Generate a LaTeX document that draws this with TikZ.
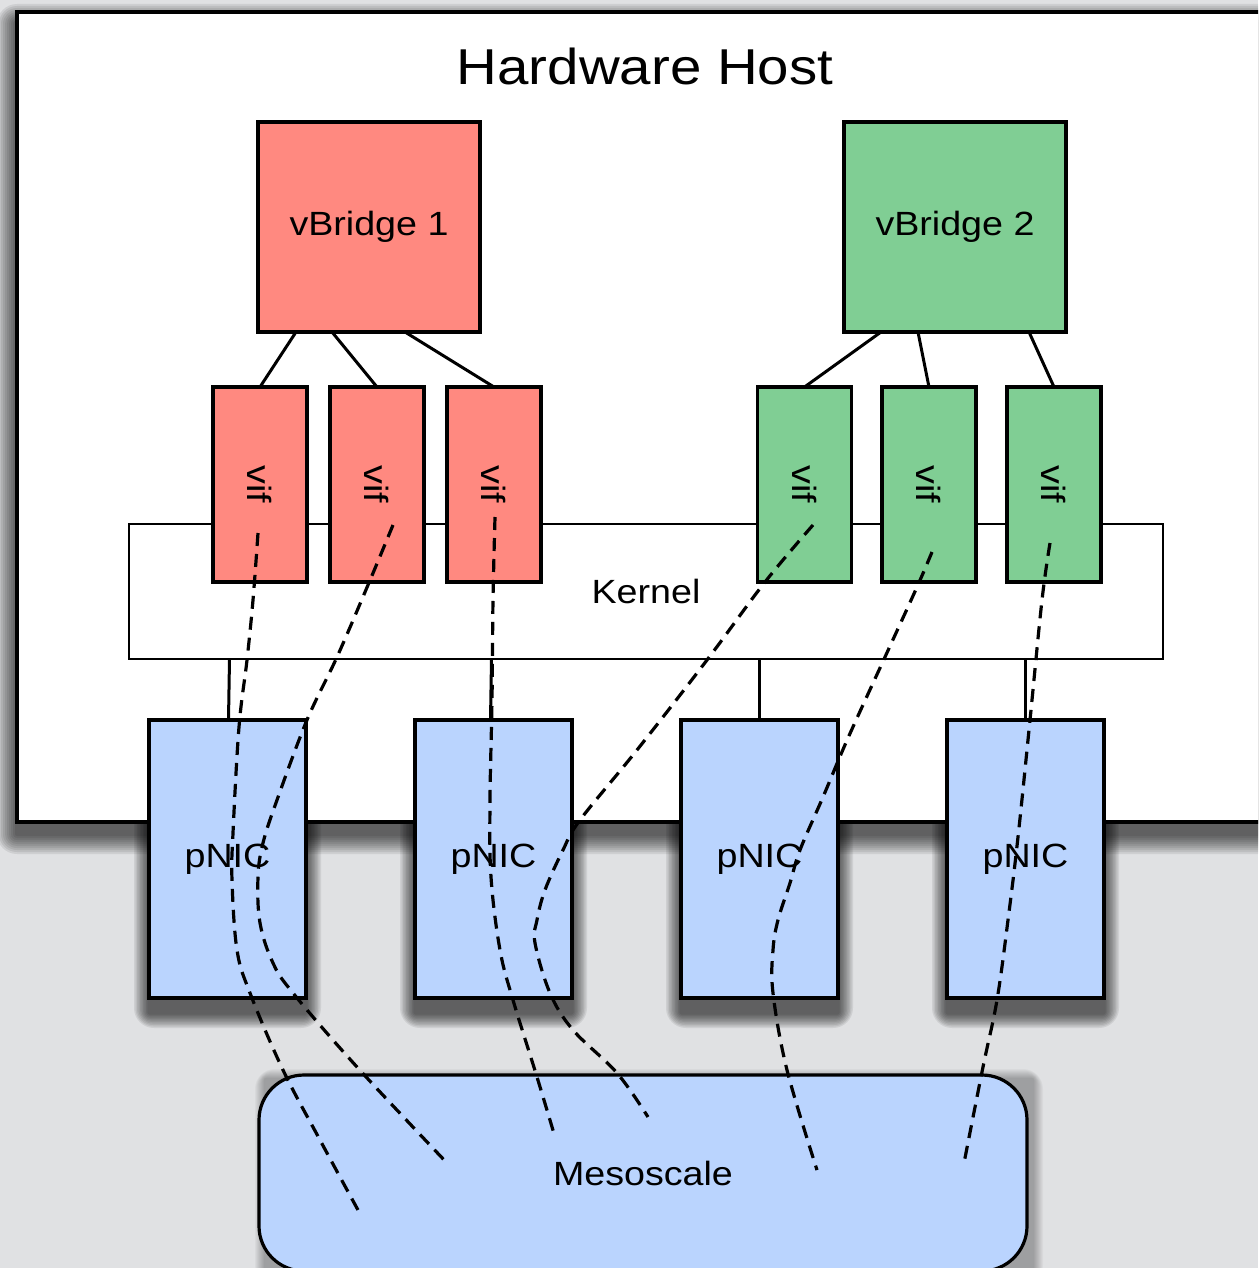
\documentclass[tikz,border=0pt]{standalone}
\usepackage{fontspec}
\setmainfont{Liberation Sans}[FakeStretch=1.12]
\usetikzlibrary{calc}
\definecolor{bggrey}{RGB}{224,225,227}
\definecolor{bridgered}{RGB}{255,137,128}
\definecolor{bridgegreen}{RGB}{128,206,148}
\definecolor{nicblue}{RGB}{186,212,254}
% soft shadow: x1 y1 x2 y2 xoffset yoffset opacity step
\newcommand{\softshadow}[8]{%
  \foreach \k in {1,...,10}{%
    \fill[black, opacity=#7, rounded corners=\k pt]
      ({#1+#5-#8*\k},{#2+#6-#8*\k}) rectangle ({#3+#5+#8*\k},{#4+#6+#8*\k});
  }%
}
\begin{document}
\begin{tikzpicture}[x=0.5pt, y=-0.5pt,
  lbl/.style={font=\fontsize{16.8}{19}\selectfont},
  box/.style={draw=black, line width=1.6pt, inner sep=0pt, outer sep=0pt, lbl},
  bridge/.style={box, minimum width=111pt, minimum height=105pt},
  vifbox/.style={box, minimum width=47pt, minimum height=97.5pt},
  nicbox/.style={box, fill=nicblue, minimum width=78.5pt, minimum height=139pt},
  link/.style={line width=1.5pt},
  flow/.style={line width=1.6pt, dash pattern=on 6.5pt off 4pt},
]
\useasboundingbox (0,0) rectangle (1258,1268);
\clip (0,0) rectangle (1258,1268);
\fill[bggrey] (0,0) rectangle (1258,1268);

% shadows
\softshadow{149}{720}{306}{998}{0}{15}{0.08}{1.5}
\softshadow{415}{720}{572}{998}{0}{15}{0.08}{1.5}
\softshadow{681}{720}{838}{998}{0}{15}{0.08}{1.5}
\softshadow{947}{720}{1104}{998}{0}{15}{0.08}{1.5}
\softshadow{259}{1075}{1027}{1271}{6}{4}{0.03}{1}
\softshadow{17}{12}{1300}{822}{0}{12}{0.08}{2}

% hardware host
\node[box, fill=white, minimum width=636.5pt, minimum height=405pt] (host) at (653.5,417) {};
\node[font=\fontsize{25.2}{30}\selectfont] (title) at (645,66) {Hardware Host};

% bridges
\node[bridge, fill=bridgered] (vb1) at (369,227) {vBridge 1};
\node[bridge, fill=bridgegreen] (vb2) at (955,227) {vBridge 2};

% kernel
\node[box, line width=1.2pt, fill=white, minimum width=517pt, minimum height=67.5pt] (kernel) at (646,591.5) {Kernel};

% vifs
\node[vifbox, fill=bridgered, label={[lbl, rotate=-90]center:vif}] (v11) at (260,484.5) {};
\node[vifbox, fill=bridgered, label={[lbl, rotate=-90]center:vif}] (v12) at (377,484.5) {};
\node[vifbox, fill=bridgered, label={[lbl, rotate=-90]center:vif}] (v13) at (494,484.5) {};
\node[vifbox, fill=bridgegreen, label={[lbl, rotate=-90]center:vif}] (v21) at (804.5,484.5) {};
\node[vifbox, fill=bridgegreen, label={[lbl, rotate=-90]center:vif}] (v22) at (929,484.5) {};
\node[vifbox, fill=bridgegreen, label={[lbl, rotate=-90]center:vif}] (v23) at (1054,484.5) {};

% bridge to vif links
\draw[link] ($(vb1.south west)+(38,0)$) -- (v11.north);
\draw[link] ($(vb1.south west)+(74,0)$) -- (v12.north);
\draw[link] ($(vb1.south west)+(147,0)$) -- (v13.north);
\draw[link] ($(vb2.south west)+(37,0)$) -- (v21.north);
\draw[link] ($(vb2.south west)+(74,0)$) -- (v22.north);
\draw[link] ($(vb2.south west)+(185,0)$) -- (v23.north);

% pNICs
\node[nicbox] (p1) at (227.5,859) {pNIC};
\node[nicbox] (p2) at (493.5,859) {pNIC};
\node[nicbox] (p3) at (759.5,859) {pNIC};
\node[nicbox] (p4) at (1025.5,859) {pNIC};

% kernel to pNIC links
\draw[link] ($(p1.north)+(1,0)$) -- ($(p1.north |- kernel.south)+(2,0)$);
\draw[link] ($(p2.north)+(-3,0)$) -- ($(p2.north |- kernel.south)+(-2,0)$);
\draw[link] (p3.north) -- (p3.north |- kernel.south);
\draw[link] (p4.north) -- (p4.north |- kernel.south);

% mesoscale
\node[box, fill=nicblue, rounded corners=22.5pt, minimum width=384pt, minimum height=98pt] (meso) at (643,1173) {Mesoscale};

% dashed flows
\coordinate (f1a) at (258,533);  \coordinate (f1b) at (358,1210);
\coordinate (f2a) at (393,525);  \coordinate (f2b) at (447,1163);
\coordinate (f3a) at (495,517);  \coordinate (f3b) at (555,1137);
\coordinate (f4a) at (813,525);  \coordinate (f4b) at (648,1117);
\coordinate (f5a) at (932,552);  \coordinate (f5b) at (817,1170);
\coordinate (f6a) at (1050,543); \coordinate (f6b) at (964,1163);

\draw[flow] plot[smooth, tension=0.6] coordinates {(f1a) (253,600) (247,660) (239,727) (233,833) (232,880) (237,950) (250,993) (283,1070) (320,1140) (f1b)};
\draw[flow] plot[smooth, tension=0.6] coordinates {(f2a) (368,585) (337,657) (307,720) (277,800) (263,843) (258,877) (260,923) (273,963) (293,993) (357,1067) (f2b)};
\draw[flow] plot[smooth, tension=0.6] coordinates {(f3a) (493,600) (492,700) (490,800) (491,877) (500,950) (513,1000) (537,1077) (f3b)};
\draw[flow] plot[smooth, tension=0.6] coordinates {(f4a) (765,582) (707,660) (637,750) (580,820) (563,850) (545,890) (537,920) (535,943) (550,993) (573,1030) (617,1073) (f4b)};
\draw[flow] plot[smooth, tension=0.6] coordinates {(f5a) (917,587) (885,657) (848,738) (823,797) (800,850) (790,883) (778,920) (773,950) (773,993) (787,1070) (f5b)};
\draw[flow] plot[smooth, tension=0.6] coordinates {(f6a) (1042,600) (1030,720) (1018,837) (1008,920) (997,1000) (983,1067) (f6b)};
\end{tikzpicture}
\end{document}
